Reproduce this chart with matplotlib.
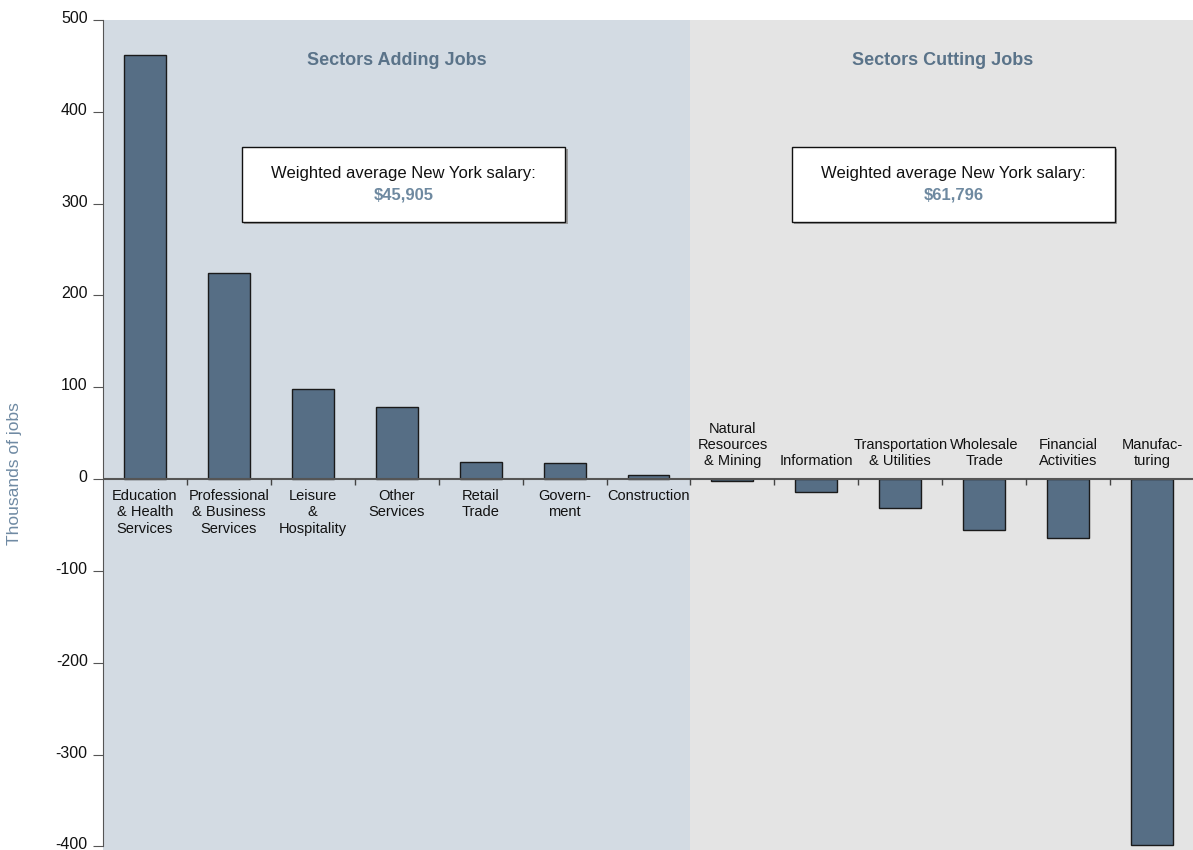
import matplotlib

matplotlib.use("Agg")
import matplotlib.pyplot as plt
from matplotlib.patches import Rectangle
from matplotlib.transforms import ScaledTranslation
import numpy as np

# ---------------------------------------------------------------------------
# Data (thousands of jobs)
adding_labels = [
    "Education\n& Health\nServices",
    "Professional\n& Business\nServices",
    "Leisure\n&\nHospitality",
    "Other\nServices",
    "Retail\nTrade",
    "Govern-\nment",
    "Construction",
]
adding_values = [462, 224, 98, 79, 19, 17, 4]

cutting_labels = [
    "Natural\nResources\n& Mining",
    "Information",
    "Transportation\n& Utilities",
    "Wholesale\nTrade",
    "Financial\nActivities",
    "Manufac-\nturing",
]
cutting_values = [-2, -14, -31, -56, -64, -399]

salary_adding = "$45,905"
salary_cutting = "$61,796"
y_ticks = [-400, -300, -200, -100, 0, 100, 200, 300, 400, 500]

# ---------------------------------------------------------------------------
FONT = ["Liberation Sans Narrow", "Liberation Sans", "DejaVu Sans"]
plt.rcParams["font.family"] = FONT
plt.rcParams["axes.unicode_minus"] = False

BAR = "#566e85"
TITLE = "#5a7389"
SALARY = "#6e89a0"

fig = plt.figure(figsize=(11.93, 8.5), dpi=100)
ax = fig.add_axes([103 / 1193, 0, 1091 / 1193, 830 / 850])

n_add = len(adding_values)
n_cut = len(cutting_values)
x_add = np.arange(n_add)
x_cut = np.arange(n_add, n_add + n_cut)

ax.set_xlim(-0.5, n_add + n_cut - 0.5)
ax.set_ylim(-404, 500)

# shaded halves
ax.axvspan(-0.5, n_add - 0.5, color="#d3dbe3", zorder=0, lw=0)
ax.axvspan(n_add - 0.5, n_add + n_cut - 0.5, color="#e4e4e4", zorder=0, lw=0)

ax.bar(x_add, adding_values, width=0.5, color=BAR, edgecolor="#1a1a1a", lw=1, zorder=3)
ax.bar(x_cut, cutting_values, width=0.5, color=BAR, edgecolor="#1a1a1a", lw=1, zorder=3)

# zero line and category ticks
ax.axhline(0, color="#555555", lw=1.5, zorder=4)
edges = np.arange(0.5, n_add + n_cut - 0.5)
ax.vlines(edges, -7, 0, color="#444444", lw=1, zorder=4)

for x, lab in zip(x_add, adding_labels):
    ax.text(x, -11, lab, ha="center", va="top", fontsize=10.5,
            color="#111111", linespacing=1.2, zorder=5)
for x, lab in zip(x_cut, cutting_labels):
    ax.text(x, 12, lab, ha="center", va="bottom", fontsize=10.5,
            color="#111111", linespacing=1.2, zorder=5)

# section titles
ax.text((n_add - 1) / 2, 456, "Sectors Adding Jobs", ha="center", va="center",
        fontsize=13, fontweight="bold", color=TITLE)
ax.text(n_add + (n_cut - 1) / 2, 456, "Sectors Cutting Jobs", ha="center",
        va="center", fontsize=13, fontweight="bold", color=TITLE)

# salary boxes
for x0, salary in [(1.16, salary_adding), (7.71, salary_cutting)]:
    ax.add_patch(Rectangle((x0 + 0.025, 278), 3.85, 82, facecolor="#9a9a9a",
                           edgecolor="none", zorder=5))
    ax.add_patch(Rectangle((x0, 280), 3.85, 82, facecolor="white",
                           edgecolor="#111111", lw=1, zorder=6))
    xc = x0 + 3.85 / 2
    ax.text(xc, 333, "Weighted average New York salary:", ha="center",
            va="center", fontsize=12, color="#111111", zorder=7)
    ax.text(xc, 309, salary, ha="center", va="center", fontsize=12,
            fontweight="bold", color=SALARY, zorder=7)

# axes styling
for side in ["top", "right", "bottom"]:
    ax.spines[side].set_visible(False)
ax.spines["left"].set_color("#555555")
ax.spines["left"].set_bounds(-400, 500)
ax.set_xticks([])
ax.set_yticks(y_ticks)
ax.tick_params(axis="y", direction="out", length=7, color="#555555",
               labelsize=11.5, labelcolor="#111111", pad=4)
nudge = ScaledTranslation(0, 3 / 100, fig.dpi_scale_trans)
for lbl in ax.get_yticklabels():
    lbl.set_transform(lbl.get_transform() + nudge)

fig.text(15 / 1193, 1 - 474 / 850, "Thousands of jobs", rotation=90,
         ha="center", va="center", fontsize=12.5, color="#6f8aa3")

fig.savefig("out.png", dpi=100)
